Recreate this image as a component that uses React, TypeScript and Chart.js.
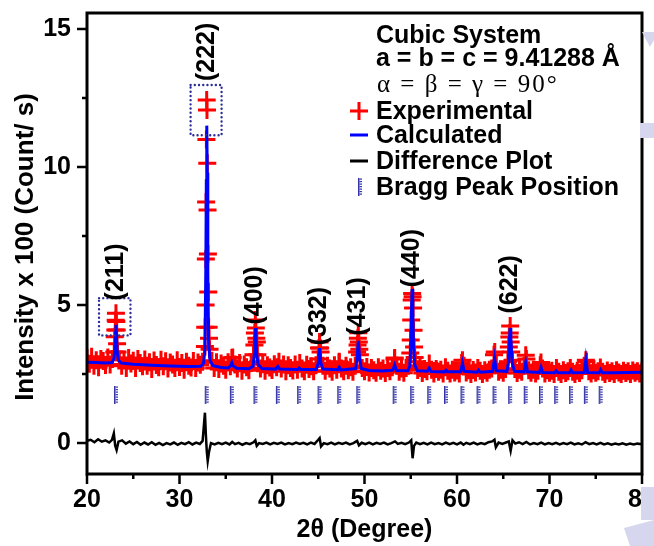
import React, { useEffect, useRef } from "react";
import { Chart, registerables } from "chart.js";
Chart.register(...registerables);

// ---------- axes ----------
const xTicks = [20, 30, 40, 50, 60, 70, 80];
const xMinorTicks = [25, 35, 45, 55, 65, 75];
const yTicks = [0, 5, 10, 15];
const yMinorTicks = [2.5, 7.5, 12.5];

// ---------- experimental (sampled every 0.25 deg from 20 deg) ----------
const expGridStart = 20;
const expGridStep = 0.25;
const expGridY = [
  3.07, 2.87, 3.13, 2.80, 3.00, 2.75, 3.05, 2.97, 2.83, 3.10,
  2.85, 3.05, 3.85, 3.60, 3.02, 2.80, 3.02, 2.72, 3.08, 2.88,
  2.98, 2.72, 3.05, 2.90, 2.78, 3.03, 2.80, 2.93, 2.68, 2.99,
  2.83, 2.75, 3.02, 2.78, 2.96, 2.70, 2.92, 2.85, 2.72, 3.00,
  2.76, 2.90, 2.66, 2.95, 2.80, 2.74, 2.97, 2.72, 2.92, 2.84,
  2.95, 3.50, 10.14, 3.40, 2.98, 2.72, 2.93, 2.68, 2.88, 2.80,
  2.66, 2.93, 2.78, 3.10, 2.85, 2.70, 2.90, 2.62, 2.85, 2.75,
  2.64, 2.90, 3.20, 4.17, 2.95, 2.70, 2.86, 2.62, 2.82, 2.74,
  2.65, 2.86, 2.75, 2.95, 2.70, 2.85, 2.60, 2.82, 2.72, 2.63,
  2.85, 2.66, 2.90, 2.70, 2.60, 2.84, 2.68, 2.78, 2.60, 2.82,
  3.05, 3.30, 2.80, 2.62, 2.80, 2.70, 2.58, 2.82, 2.66, 2.92,
  2.70, 2.60, 2.80, 2.64, 2.75, 2.58, 2.80, 3.55, 3.20, 2.72,
  2.60, 2.76, 2.56, 2.72, 2.64, 2.55, 2.75, 2.62, 2.70, 2.54,
  2.72, 2.60, 2.75, 3.05, 2.80, 2.58, 2.70, 2.55, 2.72, 2.80,
  3.73, 4.89, 2.95, 2.65, 2.72, 2.54, 2.68, 2.60, 2.88, 2.66,
  2.52, 2.68, 2.58, 2.66, 2.52, 2.75, 2.62, 2.52, 2.66, 2.56,
  2.63, 2.52, 2.90, 2.80, 2.56, 2.64, 2.50, 2.65, 2.56, 2.72,
  2.62, 2.50, 2.64, 2.55, 2.66, 2.70, 3.20, 2.85, 2.58, 2.66,
  2.55, 2.68, 2.95, 4.24, 3.00, 2.68, 2.54, 2.66, 2.58, 2.80,
  3.05, 2.64, 2.55, 2.66, 2.52, 2.62, 2.82, 2.70, 2.52, 2.64,
  2.55, 2.62, 2.50, 2.72, 2.58, 2.50, 2.64, 2.54, 2.60, 2.72,
  2.58, 2.50, 2.62, 2.54, 2.64, 2.80, 2.95, 2.60, 2.52, 2.64,
  2.55, 2.60, 2.74, 2.58, 2.50, 2.63, 2.54, 2.60, 2.50, 2.64,
  2.56, 2.50, 2.62, 2.54, 2.60, 2.50, 2.63, 2.55, 2.60, 2.52,
  2.60,
];
// extra experimental points read on the peak flanks
const expPeakX = [
  22.95, 23.06, 23.10, 23.13, 23.17, 23.21, 23.30,
  32.78, 32.82, 32.85, 32.88, 32.91, 32.94, 32.97, 33.03, 33.07, 33.11, 33.15, 33.19,
  38.10, 38.15, 38.20, 38.30, 38.36, 38.42,
  45.08, 45.14, 45.20,
  49.20, 49.28, 49.33, 49.38, 49.44,
  54.95, 55.05, 55.10, 55.15, 55.20, 55.30, 55.36, 55.42,
  65.60, 65.66, 65.70, 65.80, 65.86,
  35.66, 47.27, 53.26, 60.59, 64.08, 67.43, 69.08, 73.93,
];
const expPeakY = [
  3.30, 4.10, 4.45, 4.70, 4.40, 4.10, 3.30,
  4.20, 5.00, 6.67, 8.73, 11.00, 12.43, 12.07, 8.44, 6.85, 5.47, 4.20, 3.80,
  3.55, 3.99, 4.46, 3.80, 3.66, 3.20,
  3.44, 3.66, 3.44,
  3.30, 3.80, 4.00, 3.66, 3.40,
  3.26, 4.46, 5.18, 5.42, 5.30, 4.09, 3.48, 3.10,
  3.48, 3.84, 3.99, 3.66, 3.30,
  3.08, 2.95, 3.08, 3.00, 3.30, 3.18, 2.92, 3.00,
];

// ---------- calculated ----------
const calcX = [
  20.0, 21.0, 22.0, 22.7, 22.9, 23.0, 23.08, 23.13, 23.18, 23.26, 23.4, 23.7,
  25.0, 27.0, 29.0, 31.0, 32.3, 32.6, 32.75, 32.85, 32.9, 32.95, 33.0, 33.06, 33.15, 33.3, 33.6,
  34.5, 35.3, 35.55, 35.66, 35.78, 36.2, 37.5, 37.95, 38.08, 38.15, 38.21, 38.27, 38.35, 38.5, 38.9,
  40.4, 40.63, 40.85, 42.75, 42.93, 43.1, 44.8, 45.0, 45.14, 45.28, 45.5,
  47.1, 47.27, 47.45, 49.05, 49.2, 49.33, 49.46, 49.65, 50.5, 52.0, 53.05, 53.26, 53.45,
  54.7, 54.9, 55.0, 55.08, 55.15, 55.22, 55.3, 55.42, 55.7, 56.8, 57.0, 57.2,
  58.65, 58.81, 58.97, 60.4, 60.59, 60.78, 62.15, 62.33, 62.5, 63.85, 64.06, 64.25,
  65.4, 65.55, 65.68, 65.75, 65.82, 65.95, 66.2, 67.25, 67.43, 67.62, 68.9, 69.08, 69.26,
  70.55, 70.72, 70.9, 72.15, 72.33, 72.5, 73.75, 73.93, 74.12, 75.35, 75.53, 75.7,
  77.0, 78.5, 80.0,
];
const calcY = [
  2.93, 2.92, 2.90, 2.92, 3.05, 3.35, 4.0, 4.28, 3.9, 3.3, 3.0, 2.9,
  2.86, 2.82, 2.79, 2.77, 2.78, 2.9, 3.4, 6.5, 9.5, 11.5, 9.8, 6.2, 3.6, 3.0, 2.8,
  2.74, 2.72, 2.82, 2.92, 2.8, 2.71, 2.69, 2.78, 3.2, 3.8, 4.17, 3.8, 3.2, 2.85, 2.7,
  2.68, 2.78, 2.68, 2.67, 2.72, 2.67, 2.67, 2.9, 3.44, 2.9, 2.68,
  2.66, 2.75, 2.65, 2.7, 3.1, 3.7, 3.1, 2.7, 2.63, 2.61, 2.64, 2.83, 2.63,
  2.62, 2.8, 3.5, 4.8, 5.58, 4.8, 3.5, 2.85, 2.62, 2.6, 2.72, 2.59,
  2.58, 2.64, 2.58, 2.58, 2.9, 2.6, 2.57, 2.64, 2.57, 2.6, 3.08, 2.62,
  2.6, 2.9, 3.8, 4.17, 3.8, 2.95, 2.6, 2.58, 2.93, 2.58, 2.56, 2.75, 2.56,
  2.55, 2.62, 2.55, 2.55, 2.65, 2.55, 2.56, 3.04, 2.56, 2.55, 2.66, 2.55,
  2.55, 2.56, 2.57,
];

// ---------- difference ----------
const diffX = [
  20.0, 20.4, 20.8, 21.2, 21.6, 22.0, 22.4, 22.7, 22.9, 23.05, 23.2, 23.4, 23.8, 24.2, 24.6, 25.0,
  25.4, 25.8, 26.2, 26.6, 27.0, 27.4, 27.8, 28.2, 28.6, 29.0, 29.4, 29.8, 30.2, 30.6, 31.0, 31.4,
  31.8, 32.2, 32.5, 32.75, 32.85, 32.95, 33.05, 33.2, 33.4, 33.8, 34.2, 34.6, 35.0, 35.4, 35.7, 36.0,
  36.4, 36.8, 37.2, 37.6, 38.0, 38.2, 38.35, 38.6, 39.0, 39.4, 39.8, 40.2, 40.6, 41.0, 41.4, 41.8,
  42.2, 42.6, 43.0, 43.4, 43.8, 44.2, 44.6, 45.0, 45.15, 45.3, 45.6, 46.0, 46.4, 46.8, 47.2, 47.6,
  48.0, 48.4, 48.8, 49.2, 49.4, 49.7, 50.1, 50.5, 50.9, 51.3, 51.7, 52.1, 52.5, 52.9, 53.3, 53.6,
  54.0, 54.4, 54.8, 55.05, 55.2, 55.35, 55.6, 56.0, 56.4, 56.8, 57.2, 57.6, 58.0, 58.4, 58.8, 59.2,
  59.6, 60.0, 60.4, 60.7, 61.0, 61.4, 61.8, 62.2, 62.6, 63.0, 63.4, 63.8, 64.05, 64.2, 64.5, 64.9,
  65.3, 65.6, 65.8, 66.0, 66.3, 66.7, 67.1, 67.5, 67.9, 68.3, 68.7, 69.1, 69.5, 69.9, 70.3, 70.7,
  71.1, 71.5, 71.9, 72.3, 72.7, 73.1, 73.5, 73.9, 74.3, 74.7, 75.1, 75.5, 75.9, 76.3, 76.7, 77.1,
  77.5, 77.9, 78.3, 78.7, 79.1, 79.5, 80.0,
];
const diffY = [
  0.08, 0.12, 0.03, 0.14, 0.05, 0.10, 0.02, 0.12, 0.35, -0.10, -0.25, 0.05, 0.10, -0.02, 0.06, -0.04,
  0.04, -0.06, 0.02, -0.05, 0.03, -0.06, 0.01, -0.07, 0.00, -0.05, 0.02, -0.06, 0.01, -0.04, 0.03, -0.05,
  0.02, -0.03, 0.08, 1.10, 0.30, -0.30, -0.65, -0.30, 0.00, -0.05, 0.01, -0.04, 0.02, -0.05, 0.04, -0.04,
  0.01, -0.06, 0.00, -0.04, 0.03, 0.10, -0.10, 0.00, -0.03, 0.02, -0.05, 0.01, -0.03, 0.02, -0.05, 0.00,
  -0.04, 0.02, -0.03, 0.01, -0.05, 0.02, -0.03, 0.12, 0.18, -0.12, 0.00, -0.04, 0.02, -0.05, 0.01, -0.03,
  0.02, -0.05, 0.00, 0.08, -0.08, 0.01, -0.04, 0.02, -0.05, 0.01, -0.03, 0.02, -0.05, 0.00, 0.06, -0.03,
  0.01, -0.04, 0.02, 0.10, -0.55, -0.10, 0.02, -0.04, 0.01, -0.05, 0.02, -0.04, 0.00, -0.05, 0.02, -0.04,
  0.01, -0.05, 0.02, -0.06, 0.01, -0.04, 0.02, -0.05, 0.00, -0.04, 0.03, 0.06, 0.12, -0.15, 0.02, -0.03,
  0.02, 0.06, -0.28, 0.10, -0.02, 0.03, -0.04, 0.04, -0.05, 0.00, -0.04, 0.02, -0.05, 0.00, -0.04, 0.01,
  -0.05, 0.00, -0.04, 0.02, -0.05, -0.01, -0.05, 0.03, -0.04, 0.00, -0.05, 0.01, -0.05, -0.01, -0.06, -0.02,
  -0.05, -0.01, -0.06, -0.02, -0.05, -0.02, -0.04,
];

// ---------- Bragg peak positions ----------
const braggPos = [
  23.13, 32.94, 35.66, 38.21, 40.63, 42.93, 45.14, 47.27, 49.33, 53.26, 55.15, 57.0,
  58.81, 60.59, 62.33, 64.06, 65.75, 67.43, 69.08, 70.72, 72.33, 73.93, 75.53,
];
const braggLevel = 1.74;

// ---------- annotations ----------
const peakLabels = ["(211)", "(222)", "(400)", "(332)", "(431)", "(440)", "(622)"];
const peakLabelX = [23.13, 32.94, 38.21, 45.14, 49.33, 55.15, 65.75];
const peakLabelY = [6.2, 14.17, 5.35, 4.6, 4.95, 6.7, 5.75];
const boxX0 = [21.3, 31.2];
const boxX1 = [24.7, 34.55];
const boxY0 = [3.9, 11.15];
const boxY1 = [5.25, 12.97];

const infoLines = ["Cubic System", "a = b = c = 9.41288 Å", "α = β = γ = 90°"];
const legendLabels = ["Experimental", "Calculated", "Difference Plot", "Bragg Peak Position"];

const SANS = "'Liberation Sans', Arial, Helvetica, sans-serif";

export default function App() {
  const canvasRef = useRef<HTMLCanvasElement>(null);

  useEffect(() => {
    const cv = canvasRef.current;
    if (!cv) return;

    const marker = document.createElement("canvas");
    marker.width = 6;
    marker.height = 18;
    const mc = marker.getContext("2d")!;
    mc.fillStyle = "#3434a6";
    mc.fillRect(1, 0, 1.5, 18);
    for (let k = 0.5; k < 18; k += 2.5) mc.fillRect(2.5, k, 2.5, 1.2);

    const expData = expGridY.map((v, i) => ({ x: expGridStart + i * expGridStep, y: v }))
      .concat(expPeakX.map((v, i) => ({ x: v, y: expPeakY[i] })));

    const deco = {
      id: "deco",
      afterDatasetsDraw(chart: any) {
        const { ctx, chartArea: a } = chart;
        const xs = chart.scales.x;
        const ys = chart.scales.y;
        ctx.save();

        // dotted boxes
        ctx.strokeStyle = "#2e2e9a";
        ctx.lineWidth = 2.4;
        ctx.lineCap = "round";
        ctx.setLineDash([0.01, 4.2]);
        for (let i = 0; i < boxX0.length; i++) {
          const l = xs.getPixelForValue(boxX0[i]);
          const r = xs.getPixelForValue(boxX1[i]);
          const t = ys.getPixelForValue(boxY1[i]);
          const b = ys.getPixelForValue(boxY0[i]);
          ctx.strokeRect(l, t, r - l, b - t);
        }
        ctx.setLineDash([]);
        ctx.lineCap = "butt";

        // frame
        ctx.strokeStyle = "#000";
        ctx.lineWidth = 3;
        ctx.strokeRect(a.left, a.top, a.right - a.left, a.bottom - a.top);

        // tick marks
        ctx.lineWidth = 2.5;
        ctx.beginPath();
        yTicks.forEach((v) => { const p = ys.getPixelForValue(v); ctx.moveTo(a.left - 10, p); ctx.lineTo(a.left, p); });
        yMinorTicks.forEach((v) => { const p = ys.getPixelForValue(v); ctx.moveTo(a.left - 5, p); ctx.lineTo(a.left, p); });
        xTicks.forEach((v) => { const p = xs.getPixelForValue(v); ctx.moveTo(p, a.bottom); ctx.lineTo(p, a.bottom + 10); });
        xMinorTicks.forEach((v) => { const p = xs.getPixelForValue(v); ctx.moveTo(p, a.bottom); ctx.lineTo(p, a.bottom + 5); });
        ctx.stroke();

        // peak labels
        ctx.fillStyle = "#000";
        ctx.font = `bold 25px ${SANS}`;
        ctx.textAlign = "center";
        ctx.textBaseline = "middle";
        peakLabels.forEach((s, i) => {
          ctx.save();
          ctx.translate(xs.getPixelForValue(peakLabelX[i]), ys.getPixelForValue(peakLabelY[i]));
          ctx.rotate(-Math.PI / 2);
          ctx.fillText(s, 0, 0);
          ctx.restore();
        });

        // info text
        ctx.textAlign = "left";
        ctx.textBaseline = "alphabetic";
        ctx.font = `bold 25px ${SANS}`;
        ctx.fillText(infoLines[0], 376, 43);
        ctx.fillText(infoLines[1], 376, 66);
        ctx.font = "25px 'Liberation Serif', 'Times New Roman', serif";
        (ctx as any).letterSpacing = "2px";
        ctx.fillText(infoLines[2], 377, 92);
        (ctx as any).letterSpacing = "0px";

        // legend
        const base = [119, 143, 169, 195];
        ctx.font = `bold 25px ${SANS}`;
        legendLabels.forEach((s, i) => ctx.fillText(s, 376, base[i]));
        ctx.strokeStyle = "#ff0000";
        ctx.lineWidth = 3;
        ctx.beginPath();
        ctx.moveTo(350, 111); ctx.lineTo(368, 111);
        ctx.moveTo(359, 102); ctx.lineTo(359, 120);
        ctx.stroke();
        ctx.lineWidth = 3;
        ctx.strokeStyle = "#0000ff";
        ctx.beginPath(); ctx.moveTo(350, 135); ctx.lineTo(368, 135); ctx.stroke();
        ctx.strokeStyle = "#000";
        ctx.beginPath(); ctx.moveTo(350, 161); ctx.lineTo(368, 161); ctx.stroke();
        ctx.drawImage(marker, 357, 178);

        // axis titles
        ctx.font = `bold 25px ${SANS}`;
        ctx.textAlign = "center";
        ctx.fillText("2θ (Degree)", (a.left + a.right) / 2, 537);
        ctx.save();
        ctx.translate(26, 247);
        ctx.rotate(-Math.PI / 2);
        ctx.font = `bold 26px ${SANS}`;
        ctx.textBaseline = "middle";
        ctx.fillText("Intensity x 100 (Count/ s)", 0, 0);
        ctx.restore();

        // lavender page-edge artifacts
        ctx.fillStyle = "#d6d6ee";
        ctx.beginPath();
        ctx.moveTo(642, 32); ctx.lineTo(654, 32); ctx.lineTo(654, 40); ctx.lineTo(650, 47); ctx.closePath();
        ctx.fill();
        ctx.fillRect(640, 123, 14, 15);
        ctx.fillRect(641, 487, 13, 33);
        ctx.beginPath();
        ctx.moveTo(624, 528); ctx.lineTo(654, 520); ctx.lineTo(654, 546); ctx.lineTo(630, 546); ctx.closePath();
        ctx.fill();

        ctx.restore();
      },
    };

    const tickFont = { family: SANS, size: 25, weight: "bold" as const };

    const chart = new Chart(cv, {
      type: "scatter",
      data: {
        datasets: [
          {
            label: "Calculated",
            data: calcX.map((v, i) => ({ x: v, y: calcY[i] })),
            showLine: true,
            borderColor: "#0000ff",
            borderWidth: 3,
            pointRadius: 0,
            fill: false,
          },
          {
            label: "Difference Plot",
            data: diffX.map((v, i) => ({ x: v, y: diffY[i] })),
            showLine: true,
            borderColor: "#000000",
            borderWidth: 2.5,
            pointRadius: 0,
            fill: false,
          },
          {
            label: "Bragg Peak Position",
            data: braggPos.map((v) => ({ x: v, y: braggLevel })),
            pointStyle: marker as any,
            pointRadius: 9,
            showLine: false,
          },
          {
            label: "Experimental",
            data: expData,
            pointStyle: "cross",
            pointRadius: 9,
            pointBorderWidth: 3,
            pointBorderColor: "#ff0000",
            pointBackgroundColor: "#ff0000",
            showLine: false,
          },
        ],
      },
      options: {
        animation: false,
        responsive: false,
        maintainAspectRatio: false,
        layout: { padding: { top: 13, right: 5, left: 0, bottom: 0 } },
        plugins: { legend: { display: false }, tooltip: { enabled: false } },
        scales: {
          x: {
            type: "linear",
            min: 20,
            max: 80,
            grid: { display: false, drawTicks: false },
            border: { display: false },
            afterBuildTicks: (s: any) => { s.ticks = xTicks.map((v) => ({ value: v })); },
            afterFit: (s: any) => { s.height = 72; s.paddingLeft = 0; s.paddingRight = 0; },
            ticks: { font: tickFont, color: "#000", padding: 11, maxRotation: 0, autoSkip: false },
          },
          y: {
            type: "linear",
            min: -1.12,
            max: 15.58,
            grid: { display: false, drawTicks: false },
            border: { display: false },
            afterBuildTicks: (s: any) => { s.ticks = yTicks.map((v) => ({ value: v })); },
            afterFit: (s: any) => { s.width = 87; s.paddingTop = 0; s.paddingBottom = 0; },
            ticks: { font: tickFont, color: "#000", padding: 16, autoSkip: false },
          },
        },
      },
      plugins: [deco],
    });

    return () => chart.destroy();
  }, []);

  return (
    <div style={{ position: "fixed", left: 0, top: 0, width: 654, height: 546, background: "#fff" }}>
      <canvas ref={canvasRef} width={654} height={546} style={{ width: 654, height: 546, display: "block" }} />
    </div>
  );
}
